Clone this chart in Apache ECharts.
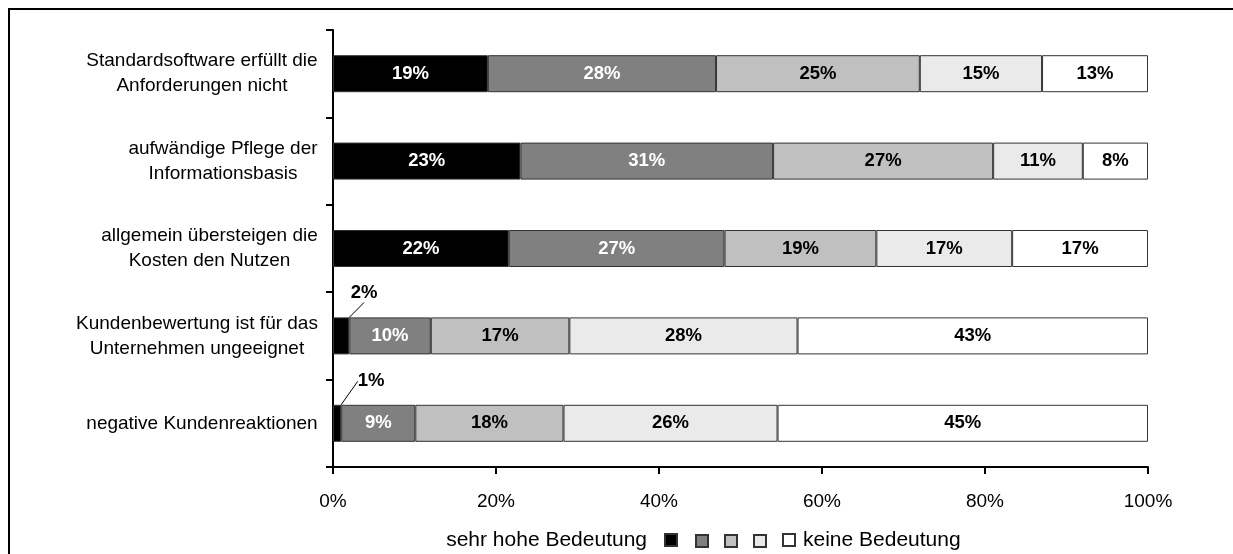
<!DOCTYPE html>
<html>
<head>
<meta charset="utf-8">
<script src="https://cdn.jsdelivr.net/npm/echarts@6/dist/echarts.min.js"></script>
<style>
  html, body { margin: 0; padding: 0; background: #fff; }
  #chart { width: 1233px; height: 554px; }
</style>
</head>
<body>
<div id="chart"></div>
<script>
// Gründe gegen den Einsatz – Anteil der Nennungen je Bedeutungsstufe
const categories = [
  'Standardsoftware erfüllt die\nAnforderungen nicht',
  'aufwändige Pflege der\nInformationsbasis',
  'allgemein übersteigen die\nKosten den Nutzen',
  'Kundenbewertung ist für das\nUnternehmen ungeeignet',
  'negative Kundenreaktionen'
];
const seriesNames = ['sehr hohe Bedeutung', 'Stufe 2', 'Stufe 3', 'Stufe 4', 'keine Bedeutung'];
const stufe1 = [19, 23, 22, 2, 1];
const stufe2 = [28, 31, 27, 10, 9];
const stufe3 = [25, 27, 19, 17, 18];
const stufe4 = [15, 11, 17, 28, 26];
const stufe5 = [13, 8, 17, 43, 45];
const xTicks = [0, 20, 40, 60, 80, 100];

const rawSeries = [stufe1, stufe2, stufe3, stufe4, stufe5];
const fills = ['#000000', '#808080', '#c0c0c0', '#eaeaea', '#ffffff'];
const labelColors = ['#ffffff', '#ffffff', '#000000', '#000000', '#000000'];
const FONT = '"Liberation Sans", Arial, Helvetica, sans-serif';

// each row is scaled to 100 %
const rowTotals = categories.map((_, i) => rawSeries.reduce((s, arr) => s + arr[i], 0));

// segments too narrow for an inside label: label sits above with a leader line
const outsideShift = { 3: [23, -10], 4: [34, -9] };

// multi-line category labels: block right-aligned, lines centred inside it
const measure = document.createElement('canvas').getContext('2d');
measure.font = '19px ' + FONT;
const rich = {};
categories.forEach((c, i) => {
  const w = Math.max(...c.split('\n').map(t => measure.measureText(t).width));
  rich['c' + i] = { width: Math.ceil(w), align: 'center', fontSize: 19, lineHeight: 25, color: '#000', fontFamily: FONT };
});

const series = rawSeries.map((arr, s) => ({
  name: seriesNames[s],
  type: 'bar',
  stack: 'gesamt',
  barWidth: 37,
  itemStyle: { color: fills[s], borderColor: '#333', borderWidth: 1 },
  label: {
    show: true,
    position: 'inside',
    color: labelColors[s],
    fontFamily: FONT,
    fontWeight: 'bold',
    fontSize: 18.5,
    formatter: p => arr[p.dataIndex] + '%'
  },
  labelLayout: s === 0 ? (p => {
    const d = outsideShift[p.dataIndex];
    return d ? { dx: d[0], dy: d[1] } : {};
  }) : undefined,
  data: arr.map((v, i) => {
    const item = { value: v / rowTotals[i] * 100 };
    if (s === 0 && outsideShift[i]) {
      item.label = { position: 'top', color: '#000', distance: 5 };
      item.labelLine = { show: true, lineStyle: { color: '#000', width: 1 } };
    }
    return item;
  })
}));

// legend row: caption, five swatches, caption
const LEGEND_TOP = 528;
const LEGEND_LINE = 24;
const SWATCH = 12;
const legendBase = {
  top: LEGEND_TOP,
  padding: 0,
  icon: 'rect',
  itemWidth: SWATCH,
  itemHeight: SWATCH,
  selectedMode: false,
  textStyle: { color: '#000', fontSize: 21, lineHeight: LEGEND_LINE, fontFamily: FONT }
};
const swatchLeft = [null, 695, 724, 753, 782];
const legends = seriesNames.map((n, s) => {
  if (s === 0) {
    return Object.assign({}, legendBase, {
      data: [n], right: 555, align: 'right',
      textStyle: Object.assign({}, legendBase.textStyle, { padding: [0, 13, 0, 0] })
    });
  }
  if (s === seriesNames.length - 1) {
    return Object.assign({}, legendBase, {
      data: [n], left: swatchLeft[s], align: 'left',
      textStyle: Object.assign({}, legendBase.textStyle, { padding: [0, 0, 0, 3] })
    });
  }
  // swatch only: centre it on the caption line
  return Object.assign({}, legendBase, {
    data: [n], left: swatchLeft[s], align: 'left', formatter: () => '',
    top: LEGEND_TOP + (LEGEND_LINE - SWATCH) / 2
  });
});

const chart = echarts.init(document.getElementById('chart'), null, { renderer: 'canvas' });
chart.setOption({
  animation: false,
  backgroundColor: '#fff',
  textStyle: { fontFamily: FONT },
  grid: { left: 333, right: 85, top: 30, bottom: 87, containLabel: false },
  xAxis: {
    type: 'value',
    min: xTicks[0],
    max: xTicks[xTicks.length - 1],
    interval: xTicks[1] - xTicks[0],
    axisLine: { show: true, lineStyle: { color: '#000', width: 2 } },
    axisTick: { show: true, length: 7, lineStyle: { color: '#000', width: 2 } },
    splitLine: { show: false },
    axisLabel: { formatter: '{value}%', color: '#000', fontSize: 19, fontFamily: FONT, margin: 25 }
  },
  yAxis: {
    type: 'category',
    inverse: true,
    data: categories,
    axisLine: { show: true, lineStyle: { color: '#000', width: 2 } },
    axisTick: { show: true, length: 7, alignWithLabel: false, lineStyle: { color: '#000', width: 2 } },
    axisLabel: {
      margin: 15,
      formatter: (v, i) => v.split('\n').map(t => '{c' + i + '|' + t + '}').join('\n'),
      rich: rich
    }
  },
  legend: legends,
  graphic: [{
    type: 'rect',
    silent: true,
    shape: { x: 9, y: 9, width: 1240, height: 560 },
    style: { fill: null, stroke: '#000', lineWidth: 2 }
  }],
  series: series
});
</script>
</body>
</html>
